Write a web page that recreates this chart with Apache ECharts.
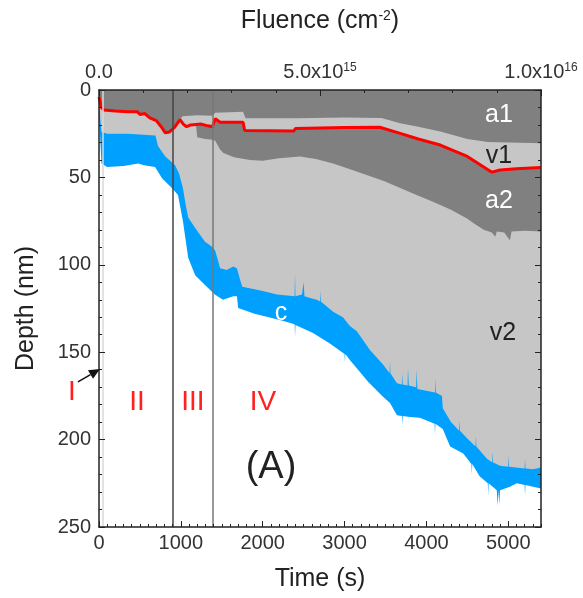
<!DOCTYPE html>
<html>
<head>
<meta charset="utf-8">
<script src="https://cdn.jsdelivr.net/npm/echarts@6/dist/echarts.min.js"></script>
<style>
  html, body { margin: 0; padding: 0; background: #fff; }
  #chart { width: 583px; height: 598px; }
</style>
</head>
<body>
<div id="chart"></div>
<script>
// every boundary is [time (s), depth (nm)]
const redLine = [[0,4],[30,10],[60,11.5],[200,12],[350,12.5],[470,12.5],[500,14],[560,13.5],[620,16],[700,17.5],[760,21],[810,24.5],[860,24],[920,21.5],[990,17],[1030,19.5],[1070,21],[1120,20],[1250,19.5],[1330,20.5],[1385,21],[1420,16.5],[1480,18.5],[1760,18.5],[1780,23.2],[2380,23.5],[2400,22],[3000,21.5],[3430,21.3],[3680,24.8],[3900,28],[4170,31.5],[4500,38],[4800,47],[4900,45.8],[5100,45],[5400,44.4]];
// a1 / v1 interface once the upper void layer shows up
const a1Edge = [[1000,17],[1020,15],[1200,14.5],[1385,14.8],[1420,13],[1760,12.5],[1790,16.2],[2400,16.2],[3000,15.8],[3450,16],[3680,19],[3900,21],[4170,23.8],[4500,28],[4750,29.8],[5400,30.5]];
// a2 / v2 interface
const a2Edge = [[1185,20],[1200,27],[1300,28],[1390,28.5],[1420,29],[1480,34],[1520,36],[1650,38.5],[1845,40],[2000,40.5],[2200,39],[2455,38],[2650,39.5],[2860,42],[3050,45],[3270,48.6],[3480,52],[3680,56],[3880,60],[4080,64],[4300,68.5],[4490,73.4],[4600,77],[4700,80],[4800,81.5],[4840,84],[4860,81],[4950,81.5],[5020,86],[5040,81],[5200,80.5],[5400,81]];
// c layer (blue), upper and lower edge
const cTop = [[0,9],[30,24],[100,25],[350,25],[360,26],[690,26],[720,32],[810,38],[930,43],[980,48],[1025,56],[1060,66],[1090,73],[1175,79],[1295,86.8],[1390,90],[1420,92],[1480,102],[1560,103],[1640,101],[1685,102],[1720,108],[1750,112.5],[1900,114],[2000,115],[2175,117],[2390,118],[2395,105],[2400,118],[2480,117],[2500,110],[2510,118],[2580,119],[2660,120],[2700,121],[2705,115],[2710,121],[2860,126.8],[2980,130],[3065,135],[3150,138],[3310,148.7],[3470,157],[3550,162],[3555,155],[3560,162],[3640,167.8],[3700,168.5],[3705,162],[3710,168.5],[3770,169],[3775,159],[3785,169],[3875,170],[3880,160],[3890,171],[4105,173],[4110,165],[4115,173],[4190,175],[4200,182],[4300,190],[4400,195],[4405,189],[4410,195],[4490,199],[4600,204],[4605,198],[4610,204],[4740,211],[4800,213],[4805,207],[4810,213],[4900,215],[5000,215.5],[5005,209],[5010,215.5],[5200,216.5],[5205,211],[5210,216.5],[5300,217],[5400,216]];
const cBottom = [[0,14],[30,42],[100,44],[300,43.5],[480,42],[550,43],[685,44],[770,50.5],[890,56],[965,60],[1025,75],[1090,96],[1175,106],[1295,111.6],[1415,117],[1515,120],[1640,118],[1685,118],[1700,124.7],[1900,128],[2210,131.6],[2390,134],[2395,141],[2400,134.5],[2615,139],[2820,145],[3000,151],[3005,156],[3010,151],[3065,154.5],[3290,167],[3470,175.5],[3555,179],[3640,186],[3700,186.5],[3705,192],[3710,186.5],[3800,187],[3920,187.5],[4100,191],[4105,197],[4110,191],[4200,194],[4290,204],[4450,208],[4550,214],[4555,220],[4560,214],[4650,221],[4750,225],[4755,232],[4760,225],[4860,229],[4870,238],[4880,229],[4890,237],[4900,229],[5020,227],[5105,225],[5200,226],[5205,232],[5210,226],[5400,228]];
const phaseLines = [50, 900, 1390];
const phaseColors = ['#d8d8d8', '#444', '#777'];

const FONT = '"Liberation Sans", Arial, sans-serif';
const DARK = '#808080';
const LIGHT = '#c6c6c6';
const BLUE = '#00a0ff';
const INK = '#222';

// before ~1000 s the a1 layer reaches down to the red line
const a1Bottom = redLine.filter(p => p[0] < 1000).concat(a1Edge);

const chart = echarts.init(document.getElementById('chart'));

function band(data, color) {
    return {
        type: 'line',
        data: data,
        symbol: 'none',
        silent: true,
        z: 1,
        lineStyle: { width: 0 },
        areaStyle: { color: color, opacity: 1, origin: 'start' }
    };
}

function fluenceLabel(v) {
    if (v === 0) return '{b|0.0}';
    const e = Math.floor(Math.log10(v) + 1e-9);
    return '{b|' + (v / Math.pow(10, e)).toFixed(1) + 'x10}{s|' + e + '}';
}

const frameLine = { onZero: false, lineStyle: { color: INK, width: 1.5 } };

chart.setOption({
    animation: false,
    grid: { left: 99, right: 42, top: 90, bottom: 71 },
    xAxis: [
        {
            type: 'value', position: 'bottom', min: 0, max: 5400, interval: 1000, z: 10,
            axisLine: frameLine,
            axisTick: { inside: true, length: 6, lineStyle: { color: INK } },
            axisLabel: {
                showMaxLabel: false, fontSize: 20, color: '#333', margin: 6, fontFamily: FONT,
                formatter: v => String(v)
            },
            splitLine: { show: false },
            name: 'Time (s)', nameLocation: 'middle', nameGap: 40,
            nameTextStyle: { fontSize: 25, color: INK, fontFamily: FONT }
        },
        {
            type: 'value', position: 'top', min: 0, max: 1e16, interval: 5e15, z: 10,
            axisLine: frameLine,
            axisTick: { inside: true, length: 6, lineStyle: { color: INK } },
            minorTick: { show: true, splitNumber: 5, length: 3, lineStyle: { color: INK } },
            axisLabel: {
                formatter: fluenceLabel, margin: 8, color: '#333',
                rich: {
                    b: { fontSize: 20, fontFamily: FONT, color: '#333' },
                    s: { fontSize: 12, fontFamily: FONT, color: '#333', verticalAlign: 'top' }
                }
            },
            splitLine: { show: false },
            name: 'Fluence (cm{s|-2})', nameLocation: 'middle', nameGap: 56,
            nameTextStyle: {
                fontSize: 25, color: INK, fontFamily: FONT,
                rich: { s: { fontSize: 14, fontFamily: FONT, color: INK, verticalAlign: 'top' } }
            }
        },
        {
            // fine ticks every 100 s along the time axis
            type: 'value', position: 'bottom', min: 0, max: 5400, interval: 100, z: 10,
            axisLine: { show: false, onZero: false },
            axisTick: { inside: true, length: 3, lineStyle: { color: INK } },
            axisLabel: { show: false },
            splitLine: { show: false }
        }
    ],
    yAxis: [
        {
            type: 'value', inverse: true, min: 0, max: 250, interval: 50, z: 10,
            axisLine: Object.assign({ show: true }, frameLine),
            axisTick: { show: true, inside: true, length: 6, lineStyle: { color: INK } },
            minorTick: { show: true, splitNumber: 5, length: 3, lineStyle: { color: INK } },
            axisLabel: { fontSize: 20, color: '#333', margin: 8, fontFamily: FONT },
            splitLine: { show: false },
            name: 'Depth (nm)', nameLocation: 'middle', nameGap: 60,
            nameTextStyle: { fontSize: 25, color: INK, fontFamily: FONT }
        },
        {
            type: 'value', position: 'right', inverse: true, min: 0, max: 250, interval: 50, z: 10,
            axisLine: Object.assign({ show: true }, frameLine),
            axisTick: { show: true, inside: true, length: 6, lineStyle: { color: INK } },
            minorTick: { show: true, splitNumber: 5, length: 3, lineStyle: { color: INK } },
            axisLabel: { show: false },
            splitLine: { show: false }
        }
    ],
    series: [
        band(cBottom, BLUE),
        band(cTop, LIGHT),
        band(a2Edge, DARK),
        band(redLine, LIGHT),
        band(a1Bottom, DARK),
        {
            type: 'line',
            data: redLine,
            symbol: 'none',
            silent: true,
            z: 2,
            lineStyle: { color: '#ff0000', width: 3 },
            markLine: {
                silent: true,
                symbol: ['none', 'none'],
                label: { show: false },
                data: phaseLines.map((t, i) => ({
                    xAxis: t,
                    lineStyle: { color: phaseColors[i], width: 1.5, type: 'solid' }
                }))
            }
        }
    ]
});

// annotations, placed in data coordinates [time, depth]
const notes = [
    { text: 'a1', at: [4887, 14.3], color: '#fff', size: 25 },
    { text: 'v1', at: [4887, 37.8], color: INK, size: 25 },
    { text: 'a2', at: [4887, 63.5], color: '#fff', size: 25 },
    { text: 'v2', at: [4936, 139], color: INK, size: 25 },
    { text: 'c', at: [2224, 127.6], color: '#fff', size: 25 },
    { text: '(A)', at: [2101, 216], color: INK, size: 38 },
    { text: 'II', at: [464, 178.5], color: '#ff2020', size: 28 },
    { text: 'III', at: [1148, 178.5], color: '#ff2020', size: 28 },
    { text: 'IV', at: [2004, 178.5], color: '#ff2020', size: 28 },
    { text: 'I', at: [-330, 173], color: '#ff2020', size: 28 }
];
const arrowFrom = [-257, 167];
const arrowTip = [12, 159.6];

const toPx = p => chart.convertToPixel({ xAxisIndex: 0, yAxisIndex: 0 }, p);
const graphics = notes.map(n => {
    const p = toPx(n.at);
    return {
        type: 'text', x: p[0], y: p[1], z: 100,
        style: {
            text: n.text, fill: n.color, fontSize: n.size, fontFamily: FONT,
            align: 'center', verticalAlign: 'middle'
        }
    };
});
const a = toPx(arrowFrom), b = toPx(arrowTip);
const len = Math.hypot(b[0] - a[0], b[1] - a[1]);
const ux = (b[0] - a[0]) / len, uy = (b[1] - a[1]) / len;
const bx = b[0] - ux * 11, by = b[1] - uy * 11;
graphics.push({
    type: 'line', z: 100,
    shape: { x1: a[0], y1: a[1], x2: bx, y2: by },
    style: { stroke: '#111', lineWidth: 1.5 }
});
graphics.push({
    type: 'polygon', z: 100,
    shape: { points: [b, [bx - uy * 5, by + ux * 5], [bx + uy * 5, by - ux * 5]] },
    style: { fill: '#111' }
});
chart.setOption({ graphic: graphics });
</script>
</body>
</html>
